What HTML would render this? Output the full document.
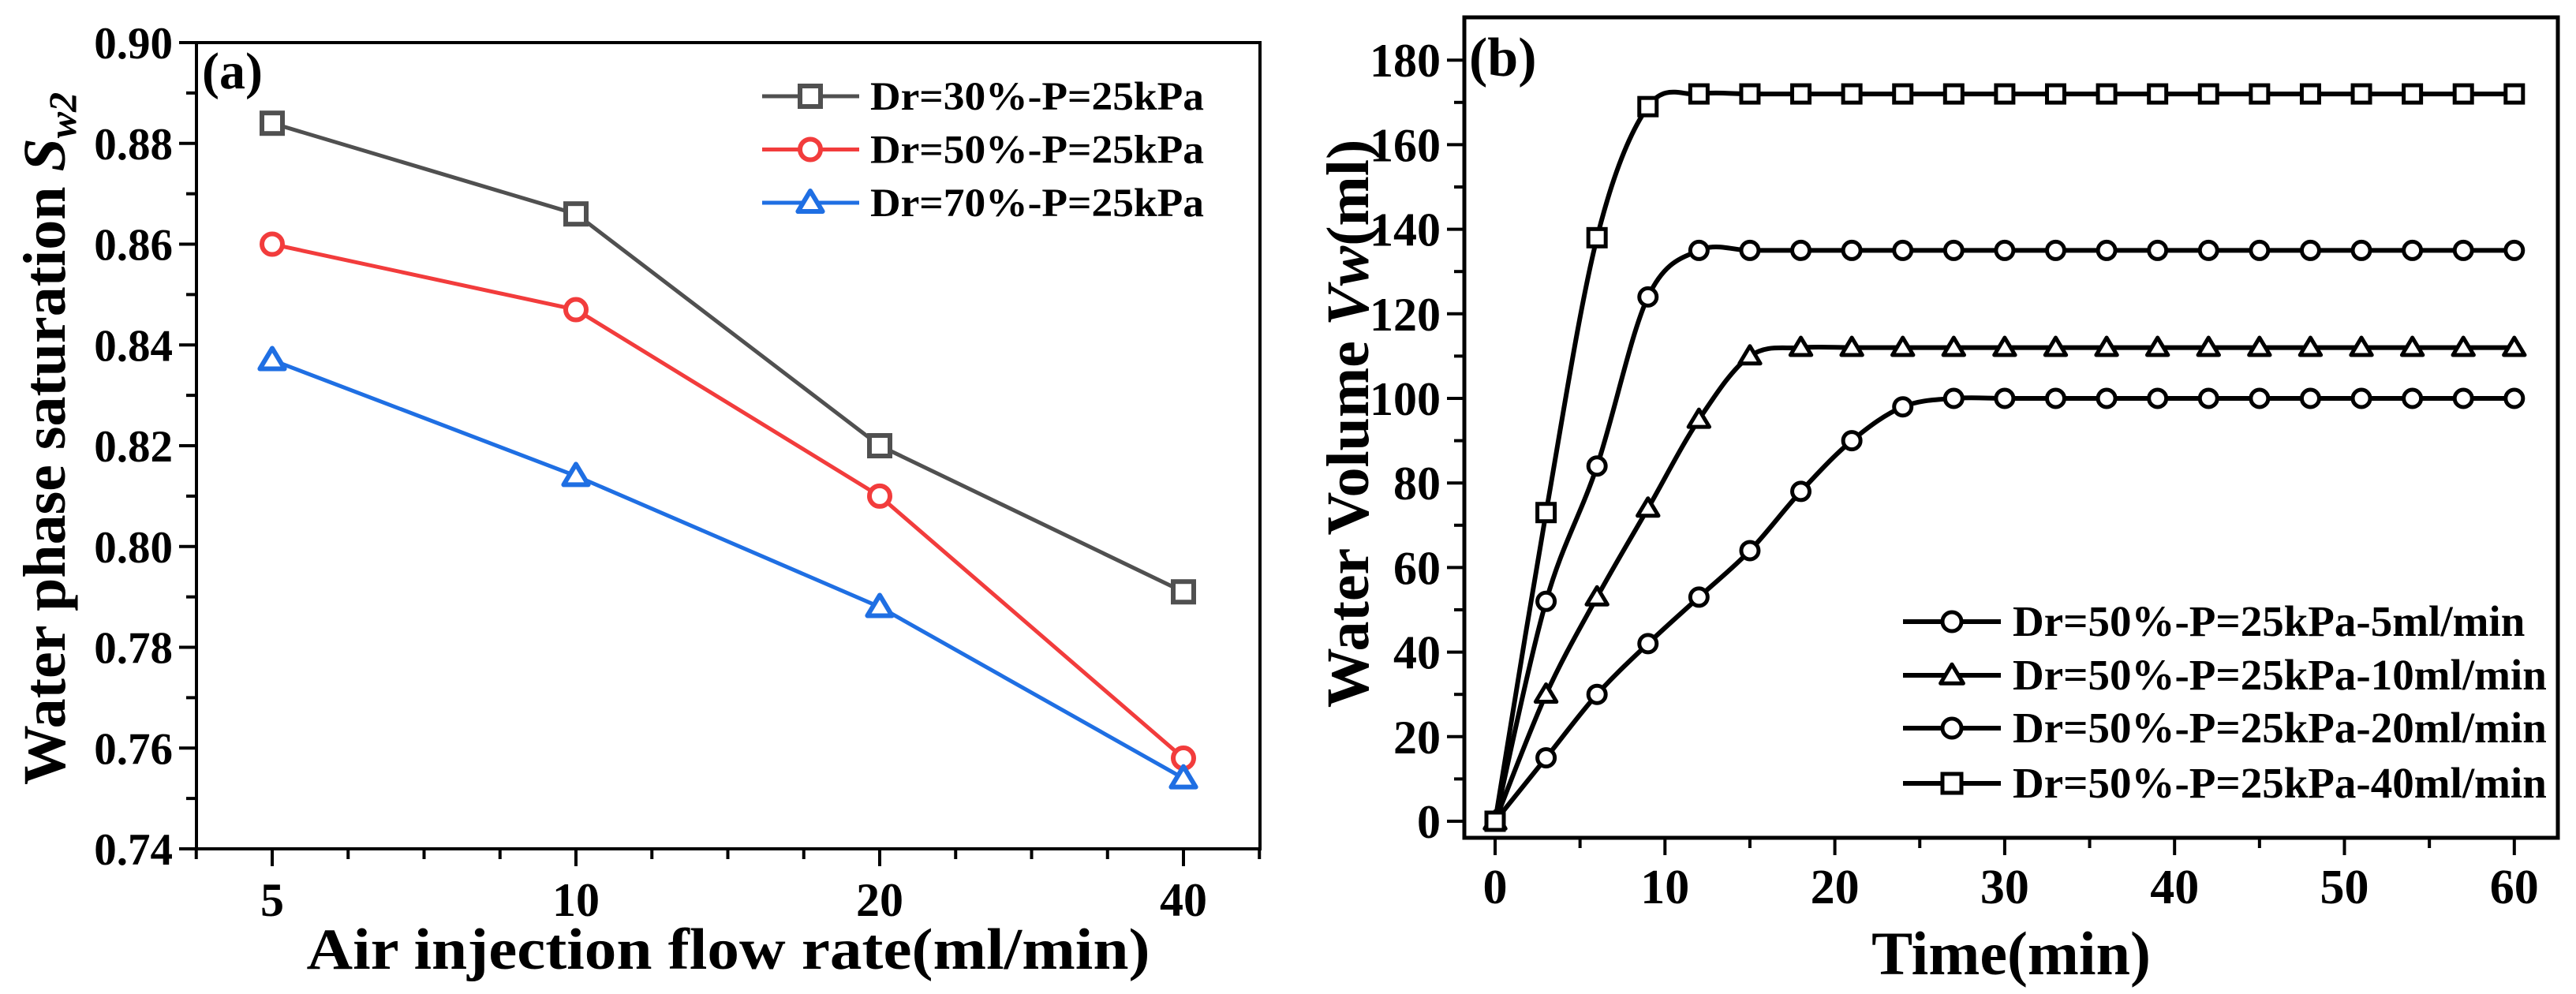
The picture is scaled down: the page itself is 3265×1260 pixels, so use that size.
<!DOCTYPE html>
<html><head><meta charset="utf-8">
<style>
html,body{margin:0;padding:0;background:#fff;}
svg{display:block;font-family:"Liberation Serif",serif;font-weight:bold;}
</style></head>
<body>
<svg id="chart" width="3265" height="1260" viewBox="0 0 3265 1260" xmlns="http://www.w3.org/2000/svg">
<rect x="0" y="0" width="3265" height="1260" fill="#fff"/>
<g id="pa"></g>
<g id="pb"></g>
</svg>
<script>
// ---- Panel (a) data ----
const aCategories = [5, 10, 20, 40];
const aSeries30 = [0.884, 0.866, 0.820, 0.791];
const aSeries50 = [0.860, 0.847, 0.810, 0.758];
const aSeries70 = [0.837, 0.814, 0.788, 0.754];
const aYTicks = ["0.74","0.76","0.78","0.80","0.82","0.84","0.86","0.88","0.90"];
const aXTicks = ["5","10","20","40"];
const aLegend = ["Dr=30%-P=25kPa","Dr=50%-P=25kPa","Dr=70%-P=25kPa"];
// ---- Panel (b) data ----
const bTimes = [0,3,6,9,12,15,18,21,24,27,30,33,36,39,42,45,48,51,54,57,60];
const b5 = [0,15,30,42,53,64,78,90,98,100,100,100,100,100,100,100,100,100,100,100,100];
const b10 = [0,30,53,74,95,110,112,112,112,112,112,112,112,112,112,112,112,112,112,112,112];
const b20 = [0,52,84,124,135,135,135,135,135,135,135,135,135,135,135,135,135,135,135,135,135];
const b40 = [0,73,138,169,172,172,172,172,172,172,172,172,172,172,172,172,172,172,172,172,172];
const bYTicks = ["0","20","40","60","80","100","120","140","160","180"];
const bXTicks = ["0","10","20","30","40","50","60"];
const bLegend = ["Dr=50%-P=25kPa-5ml/min","Dr=50%-P=25kPa-10ml/min","Dr=50%-P=25kPa-20ml/min","Dr=50%-P=25kPa-40ml/min"];

const NS = "http://www.w3.org/2000/svg";
function mk(parent, tag, attrs, text){
  const e = document.createElementNS(NS, tag);
  for (const k in attrs) e.setAttribute(k, attrs[k]);
  if (text !== undefined) e.textContent = text;
  parent.appendChild(e);
  return e;
}
function marker(g, shape, x, y, color, sw, r){
  let e;
  if (shape === "square") e = mk(g, "rect", {x:x-r, y:y-r, width:2*r, height:2*r, fill:"#fff", stroke:color, "stroke-width":sw});
  else if (shape === "circle") e = mk(g, "circle", {cx:x, cy:y, r:r, fill:"#fff", stroke:color, "stroke-width":sw});
  else e = mk(g, "polygon", {points:`${x},${y-r*1.15} ${x-r*1.2},${y+r*0.85} ${x+r*1.2},${y+r*0.85}`, fill:"#fff", stroke:color, "stroke-width":sw, "stroke-linejoin":"round"});
  return e;
}

// ================= Panel A =================
const pa = document.getElementById("pa");
const aL=249, aR=1597, aT=54, aB=1076;
const ax = v => 345 + (Math.log2(v) - Math.log2(5)) * 385;
const ay = v => aB - (v - 0.74) / 0.16 * (aB - aT);
// ticks
for (let i = 0; i <= 16; i++){
  const v = 0.74 + i*0.01, y = ay(v), major = i%2===0;
  const t = mk(pa,"line",{x1:aL, x2:aL-(major?22:13), y1:y, y2:y, stroke:"#000","stroke-width":4});
   
}
aYTicks.forEach(s=>{
  const t = mk(pa,"text",{x:aL-30, y:ay(parseFloat(s))+20, "text-anchor":"end","font-size":57}, s);
   
});
for (let k = -1; k <= 13; k++){
  const x = ax(5) + k*96.25; if (x < aL-2 || x > aR+2) continue;
  const major = k%4===0;
  const t = mk(pa,"line",{x1:x, x2:x, y1:aB, y2:aB+(major?22:13), stroke:"#000","stroke-width":4});
   
}
aXTicks.forEach((s,i)=>{
  const t = mk(pa,"text",{x:ax(aCategories[i]), y:1161, "text-anchor":"middle","font-size":60}, s);
   
});
const fa = mk(pa,"rect",{x:aL,y:aT,width:aR-aL,height:aB-aT,fill:"none",stroke:"#000","stroke-width":4});
 
const aSpecs = [[aSeries30,"#505050","square"],[aSeries50,"#f23c3c","circle"],[aSeries70,"#1f6fe3","triangle"]];
const aNames = ["series-dr30","series-dr50","series-dr70"];
aSpecs.forEach(([vals,c,sh],si)=>{
  const g = mk(pa,"g",{});
   
  mk(g,"polyline",{points:vals.map((v,i)=>`${ax(aCategories[i])},${ay(v)}`).join(" "),fill:"none",stroke:c,"stroke-width":5});
  vals.forEach((v,i)=>{
    const m = marker(g, sh, ax(aCategories[i]), ay(v), c, 6, 13);
     
  });
});
// legend a
aSpecs.forEach(([vals,c,sh],i)=>{
  const y = 122 + i*67.5;
  const g = mk(pa,"g",{});
   
  mk(g,"line",{x1:966,x2:1089,y1:y,y2:y,stroke:c,"stroke-width":5});
  marker(g, sh, 1027, y, c, 6, 13);
  mk(g,"text",{x:1103,y:y+17,"font-size":51,textLength:423,lengthAdjust:"spacingAndGlyphs"}, aLegend[i]);
});
let t;
t = mk(pa,"text",{x:256,y:112,"font-size":66}, "(a)");
 
t = mk(pa,"text",{x:923,y:1228,"text-anchor":"middle","font-size":74,textLength:1069,lengthAdjust:"spacingAndGlyphs"}, "Air injection flow rate(ml/min)");
 
t = mk(pa,"text",{transform:"translate(82,556) rotate(-90)","text-anchor":"middle","font-size":76});
 
mk(t,"tspan",{},"Water phase saturation ");
mk(t,"tspan",{"font-style":"italic"},"S");
mk(t,"tspan",{"font-style":"italic","font-size":50,dy:14},"w2");

// ================= Panel B =================
const pb = document.getElementById("pb");
const bL=1856, bR=3242, bT=22, bB=1062;
const bx = v => 1895 + v*21.53;
const by = v => 1041 - v*5.36;
for (let v = 0; v <= 180; v += 10){
  const y = by(v), major = v%20===0;
  t = mk(pb,"line",{x1:bL,x2:bL-(major?22:13),y1:y,y2:y,stroke:"#000","stroke-width":4});
   
}
bYTicks.forEach(s=>{
  t = mk(pb,"text",{x:bL-30,y:by(parseFloat(s))+21,"text-anchor":"end","font-size":60}, s);
   
});
for (let v = 0; v <= 60; v += 5){
  const x = bx(v), major = v%10===0;
  t = mk(pb,"line",{x1:x,x2:x,y1:bB,y2:bB+(major?22:13),stroke:"#000","stroke-width":4});
   
}
bXTicks.forEach(s=>{
  t = mk(pb,"text",{x:bx(parseFloat(s)),y:1145,"text-anchor":"middle","font-size":62}, s);
   
});
const fb = mk(pb,"rect",{x:bL,y:bT,width:bR-bL,height:bB-bT,fill:"none",stroke:"#000","stroke-width":5});
 
function smooth(pts){
  let d = `M${pts[0][0]},${pts[0][1]}`;
  for (let i=0;i<pts.length-1;i++){
    const p0=pts[Math.max(0,i-1)], p1=pts[i], p2=pts[i+1], p3=pts[Math.min(pts.length-1,i+2)];
    const c1=[p1[0]+(p2[0]-p0[0])/6, p1[1]+(p2[1]-p0[1])/6];
    const c2=[p2[0]-(p3[0]-p1[0])/6, p2[1]-(p3[1]-p1[1])/6];
    d += ` C${c1[0]},${c1[1]} ${c2[0]},${c2[1]} ${p2[0]},${p2[1]}`;
  }
  return d;
}
const bSpecs = [[b5,"circle","series-5ml"],[b10,"triangle","series-10ml"],[b20,"circle","series-20ml"],[b40,"square","series-40ml"]];
bSpecs.forEach(([vals,sh,nm])=>{
  const g = mk(pb,"g",{});
   
  mk(g,"path",{d:smooth(vals.map((v,i)=>[bx(bTimes[i]),by(v)])),fill:"none",stroke:"#000","stroke-width":6});
  vals.forEach((v,i)=>{
    const m = marker(g, sh, bx(bTimes[i]), by(v), "#000", 5, 11);
     
  });
});
const bLegY = [788, 856, 923, 993];
bSpecs.forEach(([vals,sh],i)=>{
  const y = bLegY[i];
  const g = mk(pb,"g",{});
   
  mk(g,"line",{x1:2412,x2:2536,y1:y,y2:y,stroke:"#000","stroke-width":6});
  marker(g, sh, 2474, y, "#000", 5, 12);
  mk(g,"text",{x:2551,y:y+18,"font-size":55}, bLegend[i]);
});
t = mk(pb,"text",{x:1862,y:96,"font-size":70}, "(b)");
 
t = mk(pb,"text",{x:2549,y:1235,"text-anchor":"middle","font-size":78}, "Time(min)");
 
t = mk(pb,"text",{transform:"translate(1734,537) rotate(-90)","text-anchor":"middle","font-size":76});
 
mk(t,"tspan",{},"Water Volume ");
mk(t,"tspan",{"font-style":"italic"},"Vw");
mk(t,"tspan",{},"(ml)");
</script>
</body></html>
